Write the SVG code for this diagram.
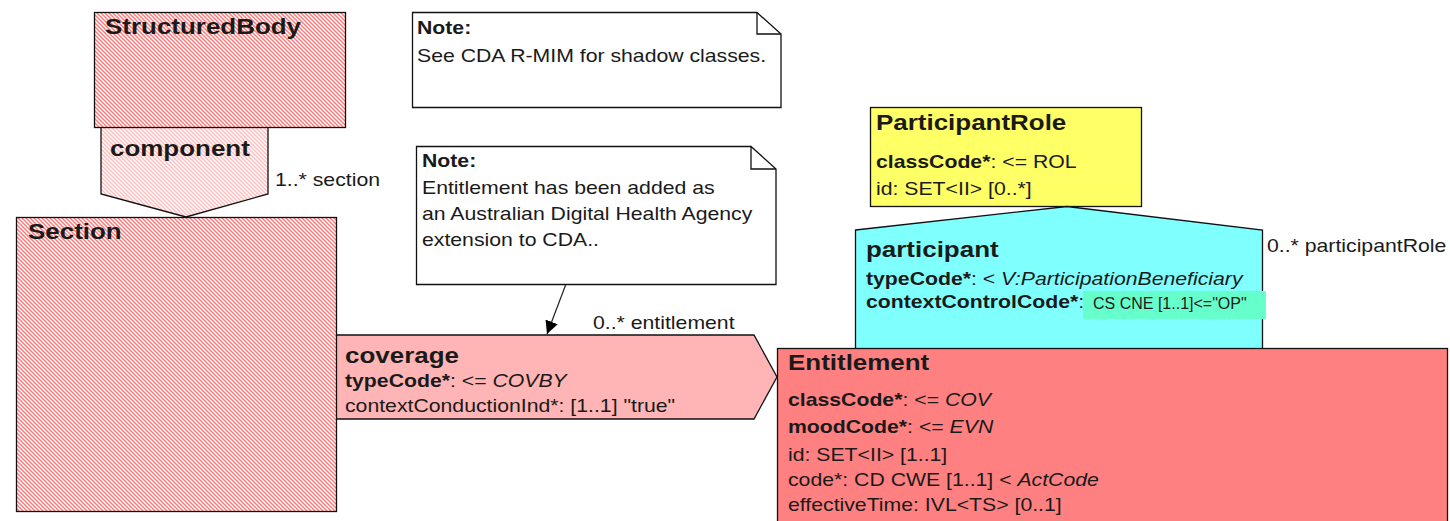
<svg xmlns="http://www.w3.org/2000/svg" width="1450" height="521" viewBox="0 0 1450 521">
<style>
text{font-family:"Liberation Sans",Arial,sans-serif;font-size:18px;fill:#1a1a1a}
.h{font-weight:bold;font-size:22px}
.b{font-weight:bold}
.i{font-style:italic}
.box{stroke:#111;stroke-width:1.3}
.note{fill:#fff;stroke:#111;stroke-width:1.3}
.fold{fill:none;stroke:#111;stroke-width:1.3}
.sm{font-size:16px}
</style>
<defs>
<pattern id="hatch" width="4" height="4" patternUnits="userSpaceOnUse">
<rect width="4" height="4" fill="#fff"/>
<path d="M-1,-1 L5,5 M-1,3 L1,5 M3,-1 L5,1" stroke="#FF7A7A" stroke-width="1.5"/>
</pattern>
<pattern id="hatchLight" width="4" height="4" patternUnits="userSpaceOnUse">
<rect width="4" height="4" fill="#fff"/>
<path d="M-1,-1 L5,5 M-1,3 L1,5 M3,-1 L5,1" stroke="#FFBDBD" stroke-width="1.5"/>
</pattern>
<marker id="arr" viewBox="0 0 10 10" refX="10" refY="5" markerWidth="13" markerHeight="13" markerUnits="userSpaceOnUse" orient="auto">
<path d="M0,0 L10,5 L0,10 z" fill="#000"/>
</marker>
</defs>

<g id="connectors">
<line x1="566" y1="284" x2="547" y2="334" stroke="#222" stroke-width="1.2" marker-end="url(#arr)"/>
<text transform="translate(275,186) scale(1.18,1)">1..* section</text>
<text transform="translate(593,329) scale(1.18,1)">0..* entitlement</text>
<text transform="translate(1267,252) scale(1.18,1)">0..* participantRole</text>
</g>

<g id="component">
<polygon class="box" points="101,127 268,127 268,194 186,217 101,194" fill="url(#hatchLight)"/>
<text class="h" transform="translate(110,156) scale(1.18,1)">component</text>
</g>

<g id="StructuredBody">
<rect class="box" x="94.5" y="12.5" width="251" height="115" fill="url(#hatch)"/>
<text class="h" transform="translate(105,34) scale(1.18,1)">StructuredBody</text>
</g>

<g id="coverage">
<polygon class="box" points="335,335 754,335 777,377 754,419 335,419" fill="#FFB5B5"/>
<g transform="translate(345,363) scale(1.18,1)">
<text class="h">coverage</text>
<text y="24"><tspan class="b">typeCode*</tspan>: &lt;= <tspan class="i">COVBY</tspan></text>
<text y="49">contextConductionInd*: [1..1] "true"</text>
</g>
</g>

<g id="Section">
<rect class="box" x="16.5" y="217.5" width="320" height="294" fill="url(#hatch)"/>
<text class="h" transform="translate(28,239) scale(1.18,1)">Section</text>
</g>

<g id="note1">
<polygon class="note" points="412.5,12.5 757,12.5 781,34 781,107.5 412.5,107.5"/>
<polyline class="fold" points="757,12.5 757,34 781,34"/>
<g transform="translate(417,34) scale(1.18,1)">
<text class="b">Note:</text>
<text y="28">See CDA R-MIM for shadow classes.</text>
</g>
</g>

<g id="note2">
<polygon class="note" points="416.5,146.5 751,146.5 776,169 776,284.5 416.5,284.5"/>
<polyline class="fold" points="751,146.5 751,169 776,169"/>
<g transform="translate(422,167) scale(1.18,1)">
<text class="b">Note:</text>
<text y="27">Entitlement has been added as</text>
<text y="53">an Australian Digital Health Agency</text>
<text y="79">extension to CDA..</text>
</g>
</g>

<g id="ParticipantRole">
<rect class="box" x="870.5" y="107.5" width="271" height="99" fill="#FFFF66"/>
<g transform="translate(876,130) scale(1.18,1)">
<text class="h">ParticipantRole</text>
<text y="38"><tspan class="b">classCode*</tspan>: &lt;= ROL</text>
<text y="65">id: SET&lt;II&gt; [0..*]</text>
</g>
</g>

<g id="participant">
<polygon class="box" points="855.5,230 1067,206.5 1262.5,230 1262.5,360 855.5,360" fill="#80FFFF"/>
<g transform="translate(866,257) scale(1.18,1)">
<text class="h">participant</text>
<text y="28"><tspan class="b">typeCode*</tspan>: &lt; <tspan class="i">V:ParticipationBeneficiary</tspan></text>
<text y="51"><tspan class="b">contextControlCode*</tspan>:</text>
</g>
<rect x="1083" y="291" width="183" height="28" fill="#66FFCC"/>
<text class="sm" x="1093" y="309">CS CNE [1..1]&lt;="OP"</text>
</g>

<g id="Entitlement">
<rect class="box" x="777.5" y="348.5" width="670" height="190" fill="#FF8080"/>
<g transform="translate(788,370) scale(1.18,1)">
<text class="h">Entitlement</text>
<text y="36"><tspan class="b">classCode*</tspan>: &lt;= <tspan class="i">COV</tspan></text>
<text y="63"><tspan class="b">moodCode*</tspan>: &lt;= <tspan class="i">EVN</tspan></text>
<text y="91">id: SET&lt;II&gt; [1..1]</text>
<text y="116">code*: CD CWE [1..1] &lt; <tspan class="i">ActCode</tspan></text>
<text y="141">effectiveTime: IVL&lt;TS&gt; [0..1]</text>
</g>
</g>
</svg>
